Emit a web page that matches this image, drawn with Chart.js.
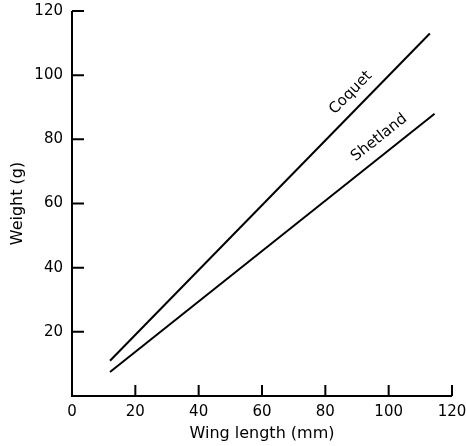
<!DOCTYPE html>
<html>
<head>
<meta charset="utf-8">
<script src="https://cdn.jsdelivr.net/npm/chart.js@4"></script>
<style>
  html, body { margin: 0; padding: 0; background: #fff; }
  #wrap { width: 466px; height: 446px; }
</style>
</head>
<body>
<div id="wrap"><canvas id="chart" width="466" height="446"></canvas></div>
<script>
// wing length (mm) vs weight (g), two fitted lines
const coquetX = [12, 113];
const coquetY = [11, 113];
const shetlandX = [12, 114.5];
const shetlandY = [7.5, 88];

const xTicks = [0, 20, 40, 60, 80, 100, 120];
const yTicks = [20, 40, 60, 80, 100, 120];

const lineNames = ["Coquet", "Shetland"];
const labelX = [88, 97];
const labelY = [94.5, 80.5];

const font = "'DejaVu Sans', sans-serif";

const toPoints = (xs, ys) => xs.map((x, i) => ({ x: x, y: ys[i] }));

// axis lines with inward ticks, plus the line names
const axesPlugin = {
  id: "axes",
  afterDatasetsDraw(chart) {
    const ctx = chart.ctx;
    const xs = chart.scales.x;
    const ys = chart.scales.y;
    const x0 = xs.getPixelForValue(0);
    const y0 = ys.getPixelForValue(0);
    ctx.save();
    ctx.strokeStyle = "#000";
    ctx.lineWidth = 2;
    ctx.beginPath();
    ctx.moveTo(x0, ys.getPixelForValue(120));
    ctx.lineTo(x0, y0);
    ctx.lineTo(xs.getPixelForValue(120), y0);
    yTicks.forEach((v) => {
      const p = ys.getPixelForValue(v);
      ctx.moveTo(x0, p);
      ctx.lineTo(x0 + 12, p);
    });
    xTicks.slice(1).forEach((v) => {
      const p = xs.getPixelForValue(v);
      ctx.moveTo(p, y0);
      ctx.lineTo(p, y0 - 11);
    });
    ctx.stroke();

    ctx.fillStyle = "#000";
    ctx.font = "15px " + font;
    ctx.textAlign = "center";
    ctx.textBaseline = "middle";
    chart.data.datasets.forEach((ds, i) => {
      const a = ds.data[0], b = ds.data[ds.data.length - 1];
      const ang = Math.atan2(
        ys.getPixelForValue(b.y) - ys.getPixelForValue(a.y),
        xs.getPixelForValue(b.x) - xs.getPixelForValue(a.x)
      );
      ctx.save();
      ctx.translate(xs.getPixelForValue(labelX[i]), ys.getPixelForValue(labelY[i]));
      ctx.rotate(ang);
      ctx.fillText(lineNames[i], 0, 0);
      ctx.restore();
    });
    ctx.restore();
  }
};

const noPad = (s) => {
  s.paddingTop = 0;
  s.paddingBottom = 0;
  s.paddingLeft = 0;
  s.paddingRight = 0;
};

const ctx = document.getElementById("chart").getContext("2d");
new Chart(ctx, {
  type: "scatter",
  data: {
    datasets: [
      { label: "Coquet", data: toPoints(coquetX, coquetY), showLine: true,
        borderColor: "#000", borderWidth: 2, pointRadius: 0 },
      { label: "Shetland", data: toPoints(shetlandX, shetlandY), showLine: true,
        borderColor: "#000", borderWidth: 2, pointRadius: 0 }
    ]
  },
  options: {
    responsive: false,
    animation: false,
    layout: { padding: { top: 11, right: 14, left: 0, bottom: 0 } },
    plugins: { legend: { display: false }, tooltip: { enabled: false } },
    scales: {
      x: {
        type: "linear", min: 0, max: 120,
        afterFit: (s) => { s.height = 50; noPad(s); },
        grid: { display: false, drawTicks: false },
        border: { display: false },
        ticks: { stepSize: 20, padding: 7, color: "#000", font: { family: font, size: 15 } },
        title: { display: true, text: "Wing length (mm)", color: "#000",
          font: { family: font, size: 16 }, padding: { top: 0, bottom: 3 } }
      },
      y: {
        type: "linear", min: 0, max: 120,
        afterFit: (s) => { s.width = 72; noPad(s); },
        grid: { display: false, drawTicks: false },
        border: { display: false },
        ticks: { stepSize: 20, padding: 9, color: "#000", font: { family: font, size: 15 },
          callback: (v) => (v === 0 ? "" : v) },
        title: { display: true, text: "Weight (g)", color: "#000",
          font: { family: font, size: 16 }, padding: { top: 8, bottom: 0 } }
      }
    }
  },
  plugins: [axesPlugin]
});
</script>
</body>
</html>
